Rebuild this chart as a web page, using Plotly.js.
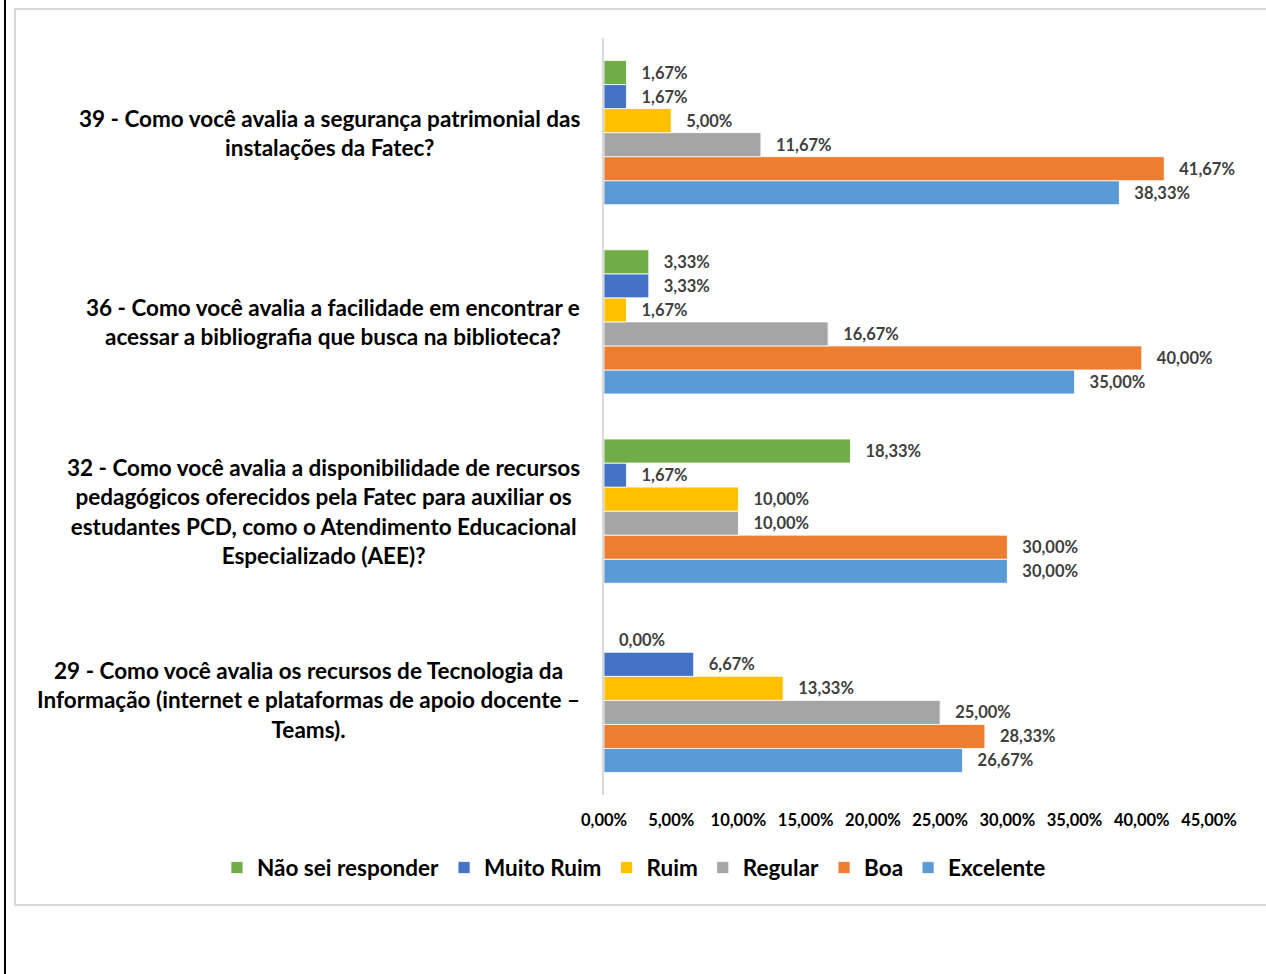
<!DOCTYPE html>
<html>
<head>
<meta charset="utf-8">
<script src="https://cdn.plot.ly/plotly-3.0.1.min.js"></script>
<style>
  html, body { margin: 0; padding: 0; background: #ffffff; width: 1266px; height: 974px; overflow: hidden; }
  #leftline { position: absolute; left: 4px; top: 0; width: 2px; height: 974px; background: #000; }
  #frame { position: absolute; left: 14px; top: 8px; width: 1300px; height: 898px; border: 2px solid #d9d9d9; box-sizing: border-box; }
  #chart { position: absolute; left: 0; top: 0; width: 1266px; height: 974px; }
</style>
</head>
<body>
<div id="leftline"></div>
<div id="frame"></div>
<div id="chart"></div>
<script>
// Categories (bottom to top)
const categories = ['Q29', 'Q32', 'Q36', 'Q39'];
const categoryLabels = [
  ['29 - Como você avalia os recursos de Tecnologia da', 'Informação (internet e plataformas de apoio docente –', 'Teams).'],
  ['32 - Como você avalia a disponibilidade de recursos', 'pedagógicos oferecidos pela Fatec para auxiliar os', 'estudantes PCD, como o Atendimento Educacional', 'Especializado (AEE)?'],
  ['36 - Como você avalia a facilidade em encontrar e', 'acessar a bibliografia que busca na biblioteca?'],
  ['39 - Como você avalia a segurança patrimonial das', 'instalações da Fatec?']
];

// Series values (fractions), in category order 29, 32, 36, 39
const naoSei     = [0.0000, 0.1833, 0.0333, 0.0167];
const muitoRuim  = [0.0667, 0.0167, 0.0333, 0.0167];
const ruim       = [0.1333, 0.1000, 0.0167, 0.0500];
const regular    = [0.2500, 0.1000, 0.1667, 0.1167];
const boa        = [0.2833, 0.3000, 0.4000, 0.4167];
const excelente  = [0.2667, 0.3000, 0.3500, 0.3833];

const seriesNames = ['Não sei responder', 'Muito Ruim', 'Ruim', 'Regular', 'Boa', 'Excelente'];
const seriesValues = [naoSei, muitoRuim, ruim, regular, boa, excelente];
const seriesColors = ['#70AD47', '#4472C4', '#FFC000', '#A5A5A5', '#ED7D31', '#5B9BD5'];

const FONT = 'Lato, "Open Sans", sans-serif';

// Traces: bottom of group first (Excelente), top last (Não sei responder)
const traces = [];
for (let i = seriesNames.length - 1; i >= 0; i--) {
  traces.push({
    type: 'bar',
    orientation: 'h',
    name: seriesNames[i],
    y: categories,
    x: seriesValues[i],
    marker: { color: seriesColors[i], line: { color: '#ffffff', width: 0.8 } },
    texttemplate: '\u00a0\u00a0\u00a0%{x:.2%}',
    textposition: 'outside',
    constraintext: 'none',
    cliponaxis: false,
    textfont: { family: FONT, size: 16.5, color: '#404040', weight: 'bold' },
    hoverinfo: 'none'
  });
}

// Category label annotations (centered lines, right edge near axis)
const annotations = categories.map((c, k) => ({
  xref: 'paper', yref: 'y',
  x: 0, y: k,
  xanchor: 'right', yanchor: 'middle',
  xshift: -22,
  align: 'center',
  showarrow: false,
  text: categoryLabels[k].join('<br>'),
  font: { family: FONT, size: 22.5, color: '#000000', weight: 'bold' }
}));

const layout = {
  width: 1266, height: 974,
  margin: { l: 604, r: 57, t: 38, b: 179, pad: 0 },
  paper_bgcolor: 'rgba(0,0,0,0)',
  plot_bgcolor: 'rgba(0,0,0,0)',
  separators: ',.',
  barmode: 'group',
  bargap: 0.238,
  bargroupgap: 0,
  showlegend: true,
  font: { family: FONT, color: '#000000' },
  xaxis: {
    range: [0, 0.45],
    dtick: 0.05,
    tickformat: '.2%',
    showgrid: false,
    zeroline: false,
    showline: false,
    ticks: '',
    ticklabelstandoff: 13,
    tickfont: { family: FONT, size: 16.5, color: '#000000', weight: 'bold' },
    fixedrange: true
  },
  yaxis: {
    type: 'category',
    categoryorder: 'array',
    categoryarray: categories,
    range: [-0.5, 3.5],
    autorange: false,
    showticklabels: false,
    showgrid: false,
    zeroline: false,
    showline: true,
    linecolor: '#d9d9d9',
    linewidth: 2,
    ticks: '',
    fixedrange: true
  },
  legend: {
    orientation: 'h',
    traceorder: 'reversed',
    x: -0.6397, xanchor: 'left',
    y: -0.0964, yanchor: 'middle',
    font: { family: FONT, size: 22.5, color: '#000000', weight: 'bold' },
    itemclick: false, itemdoubleclick: false
  },
  annotations: annotations
};

Plotly.newPlot('chart', traces, layout, { displayModeBar: false, staticPlot: true });
</script>
</body>
</html>
